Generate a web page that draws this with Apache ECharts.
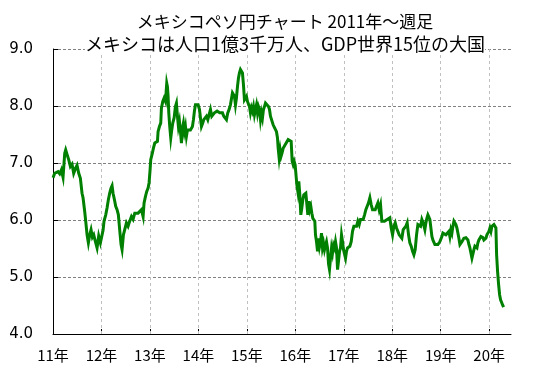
<!DOCTYPE html>
<html>
<head>
<meta charset="utf-8">
<script src="https://cdn.jsdelivr.net/npm/echarts@6/dist/echarts.min.js"></script>
<style>
html,body{margin:0;padding:0;background:#fff;}
#chart{width:537px;height:373px;}
</style>
</head>
<body>
<div id="chart"></div>
<script>
// Chart text
var titleLine1 = 'メキシコペソ円チャート 2011年～週足';
var titleLine2 = 'メキシコは人口1億3千万人、GDP世界15位の大国';

// Year ticks for the vertical grid lines
var yearTicks = [2012, 2013, 2014, 2015, 2016, 2017, 2018, 2019, 2020];

// Weekly dates (decimal years) and MXN/JPY rates
var dates = [
2011.001,2011.035,2011.070,2011.104,2011.138,2011.173,2011.207,2011.242,2011.262,2011.290,
2011.324,2011.359,2011.393,2011.427,2011.462,2011.496,2011.531,2011.565,2011.599,2011.620,
2011.654,2011.675,2011.703,2011.730,2011.758,2011.785,2011.813,2011.840,2011.875,2011.909,
2011.943,2011.978,2012.005,2012.033,2012.053,2012.088,2012.115,2012.143,2012.170,2012.198,
2012.219,2012.239,2012.267,2012.294,2012.322,2012.349,2012.377,2012.404,2012.425,2012.453,
2012.480,2012.515,2012.549,2012.583,2012.618,2012.652,2012.687,2012.721,2012.755,2012.790,
2012.824,2012.859,2012.879,2012.907,2012.934,2012.962,2012.982,2013.003,2013.017,2013.044,
2013.072,2013.100,2013.127,2013.155,2013.168,2013.196,2013.223,2013.237,2013.265,2013.292,
2013.320,2013.333,2013.347,2013.361,2013.375,2013.389,2013.409,2013.430,2013.450,2013.471,
2013.499,2013.526,2013.547,2013.568,2013.588,2013.609,2013.630,2013.650,2013.671,2013.691,
2013.712,2013.733,2013.753,2013.774,2013.795,2013.815,2013.836,2013.857,2013.877,2013.898,
2013.918,2013.939,2013.967,2013.994,2014.022,2014.063,2014.090,2014.111,2014.139,2014.166,
2014.194,2014.221,2014.249,2014.276,2014.304,2014.331,2014.359,2014.386,2014.414,2014.441,
2014.469,2014.496,2014.524,2014.551,2014.579,2014.606,2014.634,2014.661,2014.682,2014.703,
2014.723,2014.744,2014.765,2014.785,2014.806,2014.827,2014.847,2014.868,2014.889,2014.909,
2014.930,2014.950,2014.971,2014.992,2015.012,2015.033,2015.054,2015.074,2015.095,2015.116,
2015.136,2015.157,2015.178,2015.198,2015.219,2015.240,2015.260,2015.281,2015.301,2015.322,
2015.343,2015.363,2015.384,2015.405,2015.425,2015.446,2015.467,2015.487,2015.515,2015.542,
2015.570,2015.611,2015.632,2015.646,2015.666,2015.687,2015.707,2015.728,2015.749,2015.769,
2015.790,2015.811,2015.831,2015.852,2015.873,2015.893,2015.914,2015.935,2015.955,2015.976,
2015.996,2016.017,2016.031,2016.052,2016.072,2016.093,2016.113,2016.134,2016.155,2016.175,
2016.196,2016.217,2016.237,2016.258,2016.279,2016.299,2016.320,2016.341,2016.361,2016.382,
2016.402,2016.416,2016.437,2016.458,2016.478,2016.499,2016.520,2016.540,2016.561,2016.582,
2016.602,2016.623,2016.643,2016.664,2016.685,2016.705,2016.726,2016.747,2016.767,2016.788,
2016.809,2016.829,2016.850,2016.871,2016.891,2016.912,2016.932,2016.953,2016.974,2016.994,
2017.015,2017.036,2017.056,2017.077,2017.098,2017.125,2017.153,2017.180,2017.208,2017.235,
2017.263,2017.290,2017.318,2017.345,2017.373,2017.400,2017.428,2017.455,2017.483,2017.510,
2017.538,2017.565,2017.593,2017.620,2017.648,2017.675,2017.703,2017.730,2017.758,2017.785,
2017.813,2017.840,2017.868,2017.895,2017.923,2017.950,2017.978,2018.006,2018.033,2018.061,
2018.088,2018.116,2018.143,2018.171,2018.198,2018.226,2018.253,2018.281,2018.308,2018.336,
2018.363,2018.391,2018.419,2018.446,2018.473,2018.501,2018.529,2018.556,2018.584,2018.611,
2018.639,2018.673,2018.694,2018.714,2018.735,2018.756,2018.776,2018.797,2018.818,2018.838,
2018.859,2018.880,2018.900,2018.921,2018.942,2018.962,2018.983,2019.004,2019.024,2019.045,
2019.065,2019.086,2019.107,2019.127,2019.148,2019.169,2019.189,2019.210,2019.231,2019.251,
2019.272,2019.293,2019.313,2019.334,2019.354,2019.375,2019.396,2019.416,2019.437,2019.458,
2019.478,2019.499,2019.520,2019.540,2019.561,2019.582,2019.602,2019.623,2019.644,2019.664,
2019.685,2019.705,2019.726,2019.747,2019.767,2019.788,2019.809,2019.829,2019.850,2019.871,
2019.891,2019.912,2019.933,2019.953,2019.974,2019.994,2020.015,2020.036,2020.056,2020.077,
2020.098,2020.118,2020.139,2020.153,2020.173,2020.194,2020.215,2020.235,2020.256,2020.277,
2020.297
];
var rates = [
6.74,6.82,6.79,6.85,6.81,6.88,6.75,7.17,7.23,7.15,
7.06,6.94,6.98,6.82,6.90,6.96,6.82,6.73,6.47,6.39,
6.15,5.98,5.74,5.60,5.74,5.83,5.70,5.74,5.62,5.51,
5.72,5.60,5.62,5.82,5.98,6.09,6.21,6.36,6.47,6.56,
6.60,6.47,6.36,6.24,6.18,6.09,5.82,5.57,5.48,5.74,
5.71,5.95,5.89,5.98,6.06,6.01,6.12,6.15,6.12,6.15,
6.18,6.06,6.30,6.41,6.50,6.56,6.65,6.88,7.06,7.15,
7.26,7.35,7.35,7.38,7.55,7.64,7.70,7.96,8.08,8.14,
8.08,8.23,8.40,8.34,8.17,7.88,7.64,7.44,7.58,7.70,
7.79,7.99,8.05,7.82,7.64,7.73,7.55,7.35,7.61,7.70,
7.55,7.64,7.47,7.58,7.61,7.55,7.58,7.55,7.64,7.76,
7.91,8.02,8.05,8.02,7.94,7.64,7.70,7.76,7.73,7.82,
7.76,7.85,7.94,7.82,7.85,7.88,7.91,7.91,7.94,7.88,
7.85,7.88,7.82,7.85,7.76,7.88,7.94,8.02,8.05,8.23,
8.26,8.17,8.02,8.14,8.34,8.49,8.58,8.64,8.67,8.58,
8.37,8.11,8.08,8.17,8.08,8.05,7.99,7.88,7.97,7.91,
7.99,7.85,7.94,8.02,7.88,7.99,7.94,7.76,7.88,7.79,
7.94,7.99,8.05,8.06,8.02,7.99,7.94,7.82,7.79,7.67,
7.62,7.55,7.44,7.26,7.09,7.23,7.12,7.18,7.26,7.29,
7.32,7.29,7.35,7.41,7.44,7.41,7.38,7.03,6.97,7.03,
6.97,6.94,6.62,6.50,6.68,6.44,6.09,6.21,6.36,6.44,
6.44,6.47,6.44,6.09,6.33,6.18,6.24,6.12,6.03,6.01,
5.98,5.74,5.62,5.45,5.68,5.53,5.62,5.77,5.51,5.59,
5.48,5.56,5.62,5.51,5.23,5.13,5.33,5.51,5.42,5.56,
5.51,5.62,5.51,5.13,5.28,5.45,5.51,5.74,5.62,5.48,
5.51,5.33,5.45,5.51,5.48,5.54,5.62,5.80,5.89,5.92,
5.89,5.98,5.92,6.01,6.03,6.01,6.09,6.18,6.21,6.30,
6.39,6.27,6.18,6.21,6.18,6.24,6.30,6.18,6.27,5.98,
5.95,5.98,5.95,6.01,5.98,6.04,5.86,5.74,5.89,5.95,
5.86,5.80,5.74,5.71,5.68,5.83,5.80,5.89,5.95,5.74,
5.60,5.54,5.45,5.39,5.48,5.74,5.92,5.95,5.89,6.01,
5.95,5.83,5.95,6.03,6.09,6.06,6.01,5.86,5.71,5.65,
5.62,5.57,5.54,5.58,5.57,5.60,5.62,5.65,5.71,5.77,
5.74,5.75,5.74,5.77,5.74,5.80,5.71,5.83,5.77,5.89,
5.98,5.99,5.92,5.86,5.83,5.68,5.57,5.60,5.62,5.65,
5.68,5.65,5.69,5.68,5.65,5.57,5.51,5.42,5.33,5.36,
5.48,5.54,5.57,5.51,5.60,5.65,5.68,5.71,5.68,5.69,
5.65,5.62,5.68,5.74,5.77,5.80,5.86,5.80,5.89,5.86,
5.92,5.89,5.86,5.39,5.10,4.87,4.69,4.60,4.60,4.51,
4.47
];

var seriesData = dates.map(function (d, i) { return [d, rates[i]]; });

var chart = echarts.init(document.getElementById('chart'), null, {renderer: 'canvas'});
chart.setOption({
  animation: false,
  backgroundColor: '#ffffff',
  title: {
    text: titleLine1,
    subtext: titleLine2,
    left: 285,
    top: 10,
    padding: 0,
    itemGap: 0,
    textAlign: 'center',
    backgroundColor: '#ffffff',
    textStyle: {
      fontFamily: 'Noto Sans CJK JP',
      fontSize: 17,
      fontWeight: 'normal',
      color: '#000000',
      lineHeight: 23
    },
    subtextStyle: {
      fontFamily: 'Noto Sans CJK JP',
      fontSize: 18,
      fontWeight: 'normal',
      color: '#000000',
      lineHeight: 22
    }
  },
  grid: {left: 53, right: 26, top: 49, bottom: 39, containLabel: false},
  xAxis: {
    type: 'value',
    min: 2011,
    max: 2020.45,
    interval: 1,
    axisLine: {show: true, lineStyle: {color: '#000000', width: 1}},
    axisTick: {show: true, inside: true, length: 5, lineStyle: {color: '#000000'}},
    axisLabel: {
      showMaxLabel: false,
      margin: 14,
      fontFamily: 'Noto Sans CJK JP',
      fontSize: 15,
      color: '#000000',
      formatter: function (v) {
        return Math.abs(v - Math.round(v)) < 1e-6 ? (Math.round(v) % 100) + '年' : '';
      }
    },
    splitLine: {show: false}
  },
  yAxis: {
    type: 'value',
    min: 4,
    max: 9,
    interval: 1,
    axisLine: {show: true, lineStyle: {color: '#000000', width: 1}},
    axisTick: {show: true, inside: true, length: 5, lineStyle: {color: '#000000'}},
    axisLabel: {
      margin: 20,
      fontFamily: 'DejaVu Sans',
      fontSize: 15,
      color: '#000000',
      formatter: function (v) { return v.toFixed(1); }
    },
    splitLine: {show: true, lineStyle: {color: '#808080', type: [3, 2], width: 1}}
  },
  series: [
    {
      type: 'line',
      z: 1,
      silent: true,
      data: [],
      markLine: {
        silent: true,
        symbol: 'none',
        label: {show: false},
        lineStyle: {color: '#c0c0c0', type: [3, 3], width: 1},
        data: yearTicks.map(function (y) { return {xAxis: y}; })
      }
    },
    {
      type: 'line',
      z: 10,
      data: seriesData,
      showSymbol: false,
      symbol: 'none',
      smooth: false,
      lineStyle: {color: '#008000', width: 3, join: 'miter'},
      itemStyle: {color: '#008000'}
    }
  ]
});
</script>
</body>
</html>
